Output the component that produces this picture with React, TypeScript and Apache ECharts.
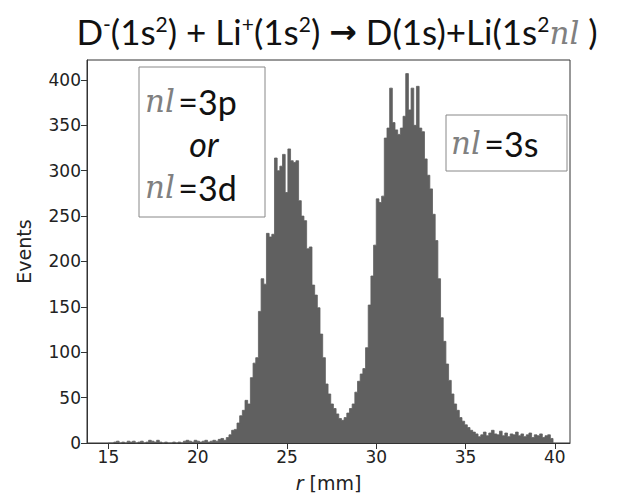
import React, { useEffect, useRef } from 'react';
import * as echarts from 'echarts';

// Histogram: bins of 0.15 mm starting at 15.0 mm
const binStart = 15.0;
const binWidth = 0.15;
const counts = [
  0, 0, 1, 2, 0, 1, 0, 2, 1, 2,
  0, 1, 2, 0, 1, 3, 2, 1, 3, 1,
  0, 1, 0, 0, 1, 0, 1, 0, 2, 3,
  2, 1, 3, 2, 1, 2, 3, 1, 2, 3,
  2, 4, 5, 3, 6, 9, 14, 15, 22, 30,
  36, 47, 43, 72, 88, 94, 145, 181, 175, 231,
  227, 230, 314, 300, 305, 318, 276, 324, 311, 309,
  311, 267, 250, 245, 214, 216, 174, 163, 149, 120,
  94, 65, 54, 43, 38, 32, 27, 25, 28, 33,
  38, 43, 56, 68, 76, 82, 105, 152, 184, 218,
  269, 265, 272, 336, 347, 391, 353, 345, 340, 347,
  360, 407, 367, 391, 350, 393, 347, 343, 313, 295,
  280, 252, 223, 181, 138, 112, 87, 69, 54, 43,
  36, 28, 24, 20, 17, 14, 12, 10, 7, 9,
  12, 8, 11, 14, 10, 9, 13, 8, 11, 7,
  10, 9, 12, 8, 10, 7, 9, 11, 6, 9,
  8, 10, 6, 8, 9, 5,
];
const xTicks = [15, 20, 25, 30, 35, 40];
const yTicks = [0, 50, 100, 150, 200, 250, 300, 350, 400];

export default function App() {
  const ref = useRef<HTMLDivElement>(null);
  useEffect(() => {
    document.body.style.margin = '0';
    const chart = echarts.init(ref.current!, null, { renderer: 'svg' });
    // step outline: each bin's left edge carries its count; closing point at last right edge
    const data: number[][] = counts.map((c, i) => [binStart + i * binWidth, c]);
    data.push([binStart + counts.length * binWidth, 0]);
    const axisColor = '#333333';
    const tickFont = { fontFamily: 'DejaVu Sans', fontSize: 17, color: '#222222' };
    const sans = 'Lato';
    const gray = '#808080';
    const barColor = '#606060';
    chart.setOption({
      animation: false,
      grid: {
        left: 87, right: 49, top: 60, bottom: 51,
        show: true, borderColor: axisColor, borderWidth: 1, backgroundColor: 'transparent',
      },
      xAxis: {
        type: 'value', min: 13.8, max: 40.85,
        axisLine: { show: true, onZero: false, lineStyle: { color: axisColor, width: 1 } },
        axisTick: { show: true, inside: false, length: 6, customValues: xTicks, lineStyle: { color: axisColor } },
        axisLabel: { customValues: xTicks, margin: 5, ...tickFont },
        splitLine: { show: false },
        name: '{i|r} [mm]',
        nameLocation: 'middle',
        nameGap: 30,
        nameTextStyle: {
          fontFamily: 'DejaVu Sans', fontSize: 19, color: '#222222',
          rich: { i: { fontStyle: 'italic', fontFamily: 'DejaVu Sans', fontSize: 19, color: '#222222' } },
        },
      },
      yAxis: {
        type: 'value', min: 0, max: 422,
        axisLine: { show: true, lineStyle: { color: axisColor, width: 1 } },
        axisTick: { show: true, inside: false, length: 6, customValues: yTicks, lineStyle: { color: axisColor } },
        axisLabel: { customValues: yTicks, margin: 6, ...tickFont },
        splitLine: { show: false },
        name: 'Events',
        nameLocation: 'middle',
        nameRotate: 90,
        nameGap: 54,
        nameTextStyle: { fontFamily: 'DejaVu Sans', fontSize: 19, color: '#222222' },
      },
      series: [
        {
          type: 'line',
          step: 'end',
          data,
          symbol: 'none',
          silent: true,
          lineStyle: { color: barColor, width: 0.8 },
          areaStyle: { color: barColor, opacity: 1 },
          z: 2,
        },
      ],
      graphic: [
        {
          type: 'text',
          x: 337, y: 29,
          style: {
            text: '{n|D}{sup|-}{n|(1s}{sup|2}{n|) + Li}{sup|+}{n|(1s}{sup|2}{n|) }{ar|→}{n| D(1s)+Li(1s}{sup|2}{nl|nl}{n| )}',
            align: 'center',
            verticalAlign: 'middle',
            rich: {
              n: { fontFamily: sans, fontSize: 35, fill: '#111111', verticalAlign: 'bottom', lineHeight: 38 },
              sup: { fontFamily: sans, fontSize: 21, fill: '#111111', verticalAlign: 'top', lineHeight: 38, padding: [3, 0, 0, 0] },
              ar: { fontFamily: 'DejaVu Sans', fontSize: 33, fontWeight: 'bold', fill: '#111111', verticalAlign: 'bottom', lineHeight: 38 },
              nl: { fontFamily: 'DejaVu Serif', fontStyle: 'italic', fontSize: 31, fill: gray, verticalAlign: 'bottom', lineHeight: 38 },
            },
          },
        },
        {
          type: 'rect',
          shape: { x: 139, y: 67, width: 126, height: 150 },
          style: { fill: '#ffffff', stroke: '#888888', lineWidth: 1 },
        },
        {
          type: 'text', x: 145, y: 101,
          style: {
            text: '{nl|nl} {t|=3p}',
            verticalAlign: 'middle',
            rich: {
              nl: { fontFamily: 'DejaVu Serif', fontStyle: 'italic', fontSize: 31, fill: gray },
              t: { fontFamily: sans, fontSize: 34, fill: '#111111' },
            },
          },
        },
        {
          type: 'text', x: 204, y: 143,
          style: { text: 'or', align: 'center', verticalAlign: 'middle', fontFamily: sans, fontStyle: 'italic', fontSize: 34, fill: '#111111' },
        },
        {
          type: 'text', x: 145, y: 187,
          style: {
            text: '{nl|nl} {t|=3d}',
            verticalAlign: 'middle',
            rich: {
              nl: { fontFamily: 'DejaVu Serif', fontStyle: 'italic', fontSize: 31, fill: gray },
              t: { fontFamily: sans, fontSize: 34, fill: '#111111' },
            },
          },
        },
        {
          type: 'rect',
          shape: { x: 446, y: 115, width: 121, height: 56 },
          style: { fill: '#ffffff', stroke: '#888888', lineWidth: 1 },
        },
        {
          type: 'text', x: 451, y: 143,
          style: {
            text: '{nl|nl} {t|=3s}',
            verticalAlign: 'middle',
            rich: {
              nl: { fontFamily: 'DejaVu Serif', fontStyle: 'italic', fontSize: 31, fill: gray },
              t: { fontFamily: sans, fontSize: 34, fill: '#111111' },
            },
          },
        },
      ],
    });
    return () => chart.dispose();
  }, []);
  return <div ref={ref} style={{ width: 619, height: 497, position: 'absolute', left: 0, top: 0 }} />;
}
